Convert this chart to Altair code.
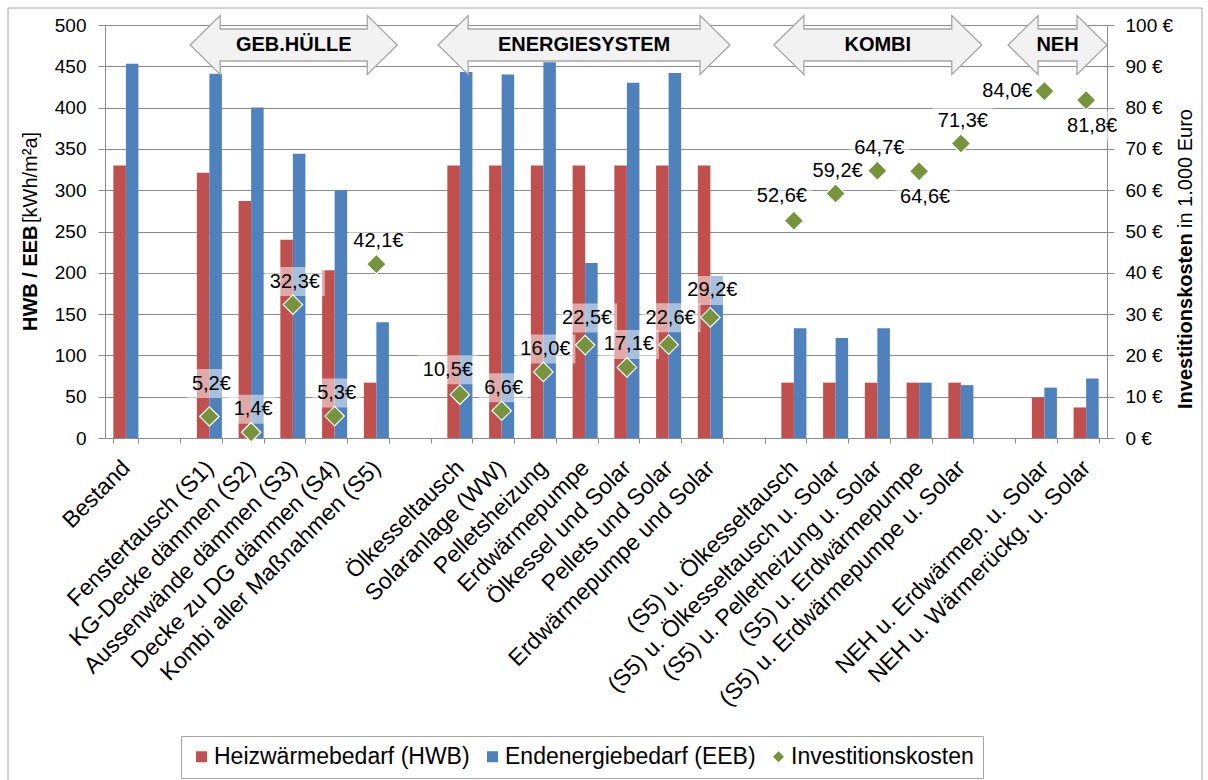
import altair as alt
import pandas as pd

FONT = "Liberation Sans"
GRID = "#8C8C8C"

# ---------------- data ----------------
categories = [
    "Bestand", " ",
    "Fenstertausch (S1)", "KG-Decke dämmen (S2)", "Aussenwände dämmen (S3)",
    "Decke zu DG dämmen (S4)", "Kombi aller Maßnahmen (S5)", "  ",
    "Ölkesseltausch", "Solaranlage (WW)", "Pelletsheizung", "Erdwärmepumpe",
    "Ölkessel und Solar", "Pellets und Solar", "Erdwärmepumpe und Solar", "   ",
    "(S5) u. Ölkesseltausch", "(S5) u. Ölkesseltausch u. Solar",
    "(S5) u. Pelletheizung u. Solar", "(S5) u. Erdwärmepumpe",
    "(S5) u. Erdwärmepumpe u. Solar", "    ",
    "NEH u. Erdwärmep. u. Solar", "NEH u. Wärmerückg. u. Solar",
]
hwb = [330, None, 321, 287, 240, 203, 67, None,
       330, 330, 330, 330, 330, 330, 330, None,
       67, 67, 67, 67, 67, None, 49, 37]
eeb = [453, None, 441, 400, 344, 300, 140, None,
       443, 440, 455, 212, 430, 442, 196, None,
       133, 121, 133, 67, 64, None, 61, 72]
invest = [None, None, 5.2, 1.4, 32.3, 5.3, 42.1, None,
          10.5, 6.6, 16.0, 22.5, 17.1, 22.6, 29.2, None,
          52.6, 59.2, 64.7, 64.6, 71.3, None, 84.0, 81.8]

series_names = ["Heizwärmebedarf (HWB)", "Endenergiebedarf (EEB)", "Investitionskosten"]
series_colors = ["#C0504D", "#4F81BD", "#77933C"]

# group arrows: text, start and end in category units
groups = [("GEB.HÜLLE", 2.04, 7.0), ("ENERGIESYSTEM", 7.98, 14.97),
          ("KOMBI", 16.02, 21.0), ("NEH", 21.63, 24.0)]

# ---------------- styles ----------------
label_place = {
    "Fenstertausch (S1)": "above_high",
    "Ölkesseltausch": "above_left",
    "Erdwärmepumpe": "above_high2",
    "Pellets und Solar": "above_high2",
    "Erdwärmepumpe und Solar": "above_high2",
    "(S5) u. Ölkesseltausch": "above_left",
    "(S5) u. Erdwärmepumpe": "below",
    "NEH u. Wärmerückg. u. Solar": "below",
    "NEH u. Erdwärmep. u. Solar": "left",
}
place_offsets = {"above": (2, -23), "above_high": (2, -33), "above_high2": (2, -27),
                 "above_left": (-12, -25), "below": (6, 26), "left": (-37, 0)}

PLOT_W, PLOT_H = 1002, 413
STEP = PLOT_W / len(categories)

# ---------------- tables ----------------
bar_rows = []
for c, h, e in zip(categories, hwb, eeb):
    if h is not None:
        bar_rows.append({"cat": c, "series": series_names[0], "value": h})
    if e is not None:
        bar_rows.append({"cat": c, "series": series_names[1], "value": e})
bars_df = pd.DataFrame(bar_rows)

inv_rows = []
for c, v in zip(categories, invest):
    if v is not None:
        lab = f"{v:.1f}".replace(".", ",") + "€"
        inv_rows.append({"cat": c, "series": series_names[2], "invest": v,
                         "label": lab, "place": label_place.get(c, "above"),
                         "n": len(lab)})
inv_df = pd.DataFrame(inv_rows)

# ---------------- encodings ----------------
x_scale = alt.Scale(domain=categories, paddingInner=0.4, paddingOuter=0.2)
x_axis = alt.Axis(title=None, labelAngle=-45, labelAlign="right", labelBaseline="middle",
                  labelFontSize=23, labelFont=FONT, labelColor="black", labelPadding=21,
                  labelLimit=700, labelOverlap=False, tickBand="extent", tickSize=5,
                  tickColor=GRID, domainColor=GRID, grid=False)
X = alt.X("cat:N", scale=x_scale, axis=x_axis)

y_left = alt.Y("value:Q", scale=alt.Scale(domain=[0, 500], nice=False),
               axis=alt.Axis(title=None, values=list(range(0, 501, 50)), labelFontSize=19,
                             labelFont=FONT, labelColor="black", tickSize=7, labelPadding=12,
                             tickColor=GRID, domainColor=GRID, gridColor=GRID, grid=True))
y_right = alt.Y("invest:Q", scale=alt.Scale(domain=[0, 100], nice=False),
                axis=alt.Axis(title=None, orient="right", values=list(range(0, 101, 10)),
                              labelExpr="datum.value + ' €'", labelFontSize=19, labelFont=FONT,
                              labelColor="black", tickSize=7, labelPadding=11,
                              tickColor=GRID, domainColor=GRID, grid=False))

color_scale = alt.Scale(domain=series_names, range=series_colors)
legend_obj = alt.Legend(title=None, orient="none", legendX=76, legendY=711,
                        direction="horizontal", strokeColor="#A6A6A6", fillColor="white",
                        padding=9, labelFontSize=23, labelFont=FONT, labelColor="black",
                        symbolSize=121, symbolStrokeWidth=0, labelOffset=1,
                        columnPadding=11, labelLimit=600)

# ---------------- layers ----------------
border = alt.Chart(pd.DataFrame({"k": [0]})).mark_rect(
    filled=False, stroke="#A6A6A6", strokeWidth=1
).encode(x=alt.value(-97), x2=alt.value(1097), y=alt.value(-17), y2=alt.value(756))

bars = alt.Chart(bars_df).mark_bar(strokeWidth=0).encode(
    x=X,
    xOffset=alt.XOffset("series:N", scale=alt.Scale(domain=series_names[:2],
                                                    paddingInner=0, paddingOuter=0)),
    y=y_left,
    color=alt.Color("series:N", scale=color_scale, legend=legend_obj),
)

right_layers = []
# label background boxes (semi-transparent white)
for place, (dx, dy) in place_offsets.items():
    for n in sorted(inv_df["n"].unique()):
        sub = inv_df[(inv_df["place"] == place) & (inv_df["n"] == n)]
        if sub.empty:
            continue
        w = 11 * n + 5
        h = 29
        path = (f"M{dx - w / 2},{dy - h / 2}h{w}v{h}h{-w}Z")
        right_layers.append(
            alt.Chart(sub).mark_point(shape=path, size=4, filled=True, fill="white",
                                      fillOpacity=0.5, opacity=1, strokeWidth=0)
            .encode(x=X, y=y_right)
        )

diamonds = alt.Chart(inv_df).mark_point(filled=True, size=380, opacity=1,
                                        stroke="white", strokeWidth=1.2).encode(
    x=X, y=y_right,
    color=alt.Color("series:N", scale=color_scale, legend=legend_obj),
    shape=alt.Shape("series:N", scale=alt.Scale(domain=series_names,
                                                range=["square", "square", "diamond"]),
                    legend=legend_obj),
)
right_layers.append(diamonds)

for place, (dx, dy) in place_offsets.items():
    sub = inv_df[inv_df["place"] == place]
    if sub.empty:
        continue
    right_layers.append(
        alt.Chart(sub).mark_text(dx=dx, dy=dy, fontSize=20, font=FONT, color="black",
                                 baseline="middle", align="center")
        .encode(x=X, y=y_right, text="label:N")
    )

right_group = alt.layer(*right_layers)

arrow_layers = []
HEAD, HH, SH = 30, 29.5, 16
for text, start, end in groups:
    mid = (start + end) / 2
    ai = int(mid)
    ac = ai + 0.5
    L = (start - ac) * STEP
    R = (end - ac) * STEP
    tdx = (mid - ac) * STEP
    path = (f"M{L:.1f},0L{L + HEAD:.1f},{-HH}L{L + HEAD:.1f},{-SH}L{R - HEAD:.1f},{-SH}"
            f"L{R - HEAD:.1f},{-HH}L{R:.1f},0L{R - HEAD:.1f},{HH}L{R - HEAD:.1f},{SH}"
            f"L{L + HEAD:.1f},{SH}L{L + HEAD:.1f},{HH}Z")
    gdf = pd.DataFrame({"cat": [categories[ai]], "txt": [text]})
    arrow_layers.append(
        alt.Chart(gdf).mark_point(shape=path, size=4, filled=True, fill="#F2F2F2",
                                  stroke="#A6A6A6", strokeWidth=1.3, opacity=1)
        .encode(x=X, y=alt.value(20))
    )
    arrow_layers.append(
        alt.Chart(gdf).mark_text(dx=tdx, fontSize=20, fontWeight="bold", font=FONT,
                                 color="black", baseline="middle", align="center")
        .encode(x=X, y=alt.value(20), text="txt:N")
    )

def title_text(txt, x, y, bold):
    return alt.Chart(pd.DataFrame({"t": [txt]})).mark_text(
        angle=270, align="left", baseline="middle", fontSize=20, font=FONT,
        fontWeight="bold" if bold else "normal", color="black"
    ).encode(x=alt.value(x), y=alt.value(y), text="t:N")

titles = [
    title_text("HWB / EEB", -74, 306, True),
    title_text("[kWh/m²a]", -74, 198, False),
    title_text("Investitionskosten", 1081, 384, True),
    title_text("in 1.000 Euro", 1081, 203, False),
]

chart = alt.layer(border, bars, right_group, *arrow_layers, *titles).resolve_scale(
    y="independent"
).properties(
    width=PLOT_W, height=PLOT_H,
    padding={"left": 7, "top": 7, "right": 0, "bottom": 0},
    background="white",
).configure_view(strokeWidth=0)

chart.save("out.html", embed_options={"renderer": "svg", "actions": False})
